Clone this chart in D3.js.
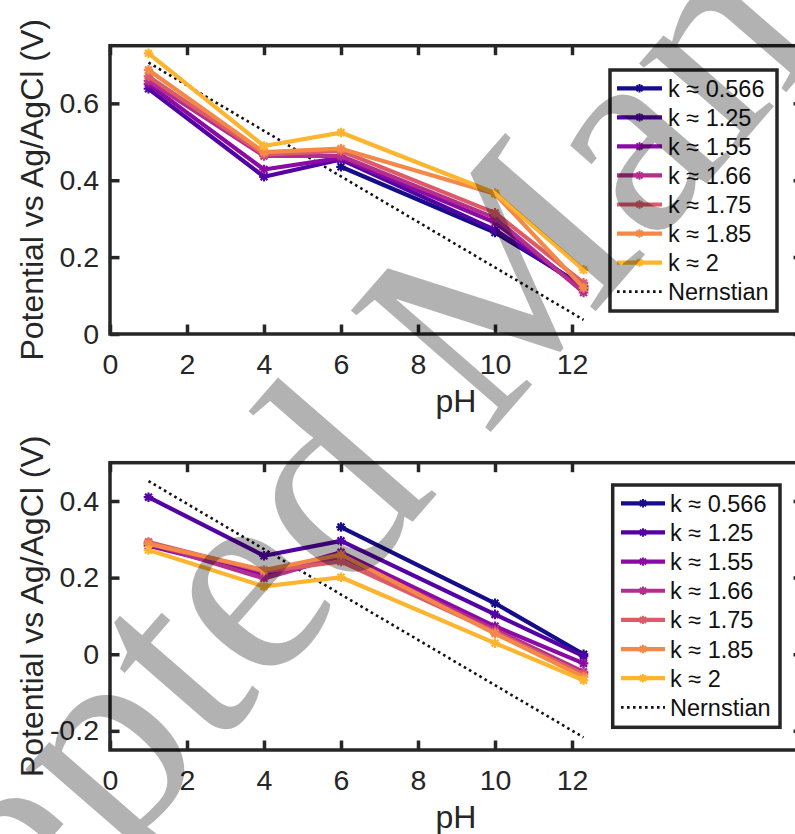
<!DOCTYPE html>
<html><head><meta charset="utf-8">
<script src="https://cdn.jsdelivr.net/npm/d3@7"></script>
<style>body{margin:0;background:#fff}svg{display:block}</style>
</head><body><svg id="c" width="795" height="834"></svg>
<script>
// ---------- data ----------
const pH = [1, 4, 6, 10, 12.3];
const kLabels = ["k \u2248 0.566", "k \u2248 1.25", "k \u2248 1.55", "k \u2248 1.66", "k \u2248 1.75", "k \u2248 1.85", "k \u2248 2"];
const kColors = ["#170c8a", "#5302a3", "#8b0aa5", "#b42e8d", "#db5c68", "#f48849", "#fdb42f"];

// top panel
const top0566 = [null, null, 0.435, 0.264, 0.125];
const top125  = [0.638, 0.409, 0.454, 0.271, 0.120];
const top155  = [0.650, 0.428, 0.458, 0.290, 0.115];
const top166  = [0.658, 0.463, 0.463, 0.302, 0.108];
const top175  = [0.670, 0.467, 0.476, 0.315, 0.133];
const top185  = [0.687, 0.473, 0.482, 0.365, 0.120];
const top200  = [0.730, 0.489, 0.524, 0.367, 0.167];

// bottom panel
const bot0566 = [null, null, 0.332, 0.133, 0.000];
const bot125  = [0.410, 0.257, 0.296, 0.104, -0.005];
const bot155  = [0.283, 0.208, 0.266, 0.073, -0.024];
const bot166  = [0.290, 0.198, 0.255, 0.064, -0.046];
const bot175  = [0.293, 0.216, 0.242, 0.058, -0.052];
const bot185  = [0.288, 0.220, 0.260, 0.054, -0.059];
const bot200  = [0.272, 0.177, 0.201, 0.029, -0.068];

const nernstX = [1, 12.3];
const nernstTop = [0.706, 0.037];
const nernstBot = [0.452, -0.217];

const xTicks = [0, 2, 4, 6, 8, 10, 12];
const yTicksTop = [0, 0.2, 0.4, 0.6];
const yTicksBot = [-0.2, 0, 0.2, 0.4];
const xLabel = "pH";
const yLabel = "Potential vs Ag/AgCl (V)";
const nernstLabel = "Nernstian";
const watermark = "Accepted Manuscript";

// ---------- drawing ----------
const svg = d3.select("#c");
const AX = "#262626";
const FONT = "'Liberation Sans', Arial, Helvetica, sans-serif";

function starPath(r) {
  const a = r * 0.72;
  return `M${-r},0H${r}M0,${-r}V${r}M${-a},${-a}L${a},${a}M${-a},${a}L${a},${-a}`;
}
const yFmt = d => d === 0 ? "0" : d3.format(".1f")(d).replace("\u2212", "-");

function panel(cfg) {
  const g = svg.append("g");
  const x = d3.scaleLinear().domain([0, 18]).range([110, 803]);
  const y = d3.scaleLinear().domain(cfg.yDomain).range([cfg.bottom, cfg.top]);

  // axes
  const tickLen = 9.5;
  const axB = g.append("g").attr("transform", `translate(0,${cfg.bottom})`)
    .call(d3.axisBottom(x).tickValues(xTicks).tickSize(-tickLen).tickPadding(20).tickFormat(d3.format("d")));
  const axT = g.append("g").attr("transform", `translate(0,${cfg.top})`)
    .call(d3.axisTop(x).tickValues(xTicks).tickSize(-tickLen).tickFormat(""));
  const axL = g.append("g").attr("transform", `translate(110,0)`)
    .call(d3.axisLeft(y).tickValues(cfg.yTicks).tickSize(-tickLen).tickPadding(11).tickFormat(yFmt));
  const axR = g.append("g").attr("transform", `translate(803,0)`)
    .call(d3.axisRight(y).tickValues(cfg.yTicks).tickSize(-tickLen).tickFormat(""));
  [axB, axT, axL, axR].forEach(a => {
    a.select(".domain").remove();
    a.selectAll(".tick line").attr("stroke", AX).attr("stroke-width", 3.5);
    a.selectAll(".tick text").attr("fill", AX).attr("font-family", FONT).attr("font-size", 28.5);
  });
  g.append("rect").attr("x", 110).attr("y", cfg.top).attr("width", 693).attr("height", cfg.bottom - cfg.top)
    .attr("fill", "none").attr("stroke", AX).attr("stroke-width", 3.5);

  // labels
  g.append("text").attr("x", 456).attr("y", cfg.bottom + 78).attr("text-anchor", "middle")
    .attr("font-family", FONT).attr("font-size", 32).attr("fill", AX).text(xLabel);
  g.append("text").attr("transform", `translate(43,${(cfg.top + cfg.bottom) / 2}) rotate(-90)`)
    .attr("text-anchor", "middle").attr("font-family", FONT).attr("font-size", 32).attr("fill", AX).text(yLabel);

  // nernst
  const line = d3.line().defined(d => d[1] !== null).x(d => x(d[0])).y(d => y(d[1]));
  g.append("path").datum(nernstX.map((v, i) => [v, cfg.nernst[i]]))
    .attr("d", line).attr("fill", "none").attr("stroke", "#111").attr("stroke-width", 2.6)
    .attr("stroke-dasharray", "2.6,3.4");

  // series
  cfg.series.forEach((s, i) => {
    const pts = pH.map((v, j) => [v, s[j]]);
    g.append("path").datum(pts).attr("d", line).attr("fill", "none")
      .attr("stroke", kColors[i]).attr("stroke-width", 4.2).attr("stroke-linejoin", "round");
    g.selectAll(null).data(pts.filter(d => d[1] !== null)).enter().append("path")
      .attr("transform", d => `translate(${x(d[0])},${y(d[1])})`)
      .attr("d", starPath(4.8)).attr("fill", "none").attr("stroke", kColors[i]).attr("stroke-width", 2.2);
  });

  // legend
  const L = cfg.legend;
  g.append("rect").attr("x", L.x0).attr("y", L.y0).attr("width", L.x1 - L.x0).attr("height", L.y1 - L.y0)
    .attr("fill", "#fff").attr("stroke", AX).attr("stroke-width", 3.5);
  const labels = kLabels.concat([nernstLabel]);
  labels.forEach((lab, i) => {
    const yy = L.row0 + i * L.dy;
    const lg = g.append("g");
    if (i < kLabels.length) {
      lg.append("line").attr("x1", L.lx0).attr("x2", L.lx1).attr("y1", yy).attr("y2", yy)
        .attr("stroke", kColors[i]).attr("stroke-width", 4.2);
      lg.append("path").attr("transform", `translate(${(L.lx0 + L.lx1) / 2},${yy})`)
        .attr("d", starPath(4.2)).attr("fill", "none").attr("stroke", kColors[i]).attr("stroke-width", 2);
    } else {
      lg.append("line").attr("x1", L.lx0).attr("x2", L.lx1).attr("y1", yy).attr("y2", yy)
        .attr("stroke", "#111").attr("stroke-width", 2.6).attr("stroke-dasharray", "2.6,3.4");
    }
    lg.append("text").attr("x", L.tx).attr("y", yy).attr("dy", "0.36em")
      .attr("font-family", FONT).attr("font-size", 23.5).attr("fill", "#111").text(lab);
  });
}

panel({
  top: 45.7, bottom: 334, yDomain: [0, 0.75], yTicks: yTicksTop,
  series: [top0566, top125, top155, top166, top175, top185, top200], nernst: nernstTop,
  legend: {x0: 610, x1: 777, y0: 70, y1: 311, row0: 88.3, dy: 29.05, lx0: 617, lx1: 662, tx: 668}
});
panel({
  top: 462.7, bottom: 750, yDomain: [-0.25, 0.5], yTicks: yTicksBot,
  series: [bot0566, bot125, bot155, bot166, bot175, bot185, bot200], nernst: nernstBot,
  legend: {x0: 612.7, x1: 780, y0: 485, y1: 727.3, row0: 503.3, dy: 29.15, lx0: 621, lx1: 665, tx: 670}
});

// watermark overlay
svg.append("text")
  .attr("transform", "translate(-262,1298) rotate(-49)")
  .attr("font-family", "'Liberation Serif', 'Times New Roman', serif")
  .attr("font-size", 283).attr("fill", "#000").attr("fill-opacity", 0.3)
  .text(watermark);
</script></body></html>
